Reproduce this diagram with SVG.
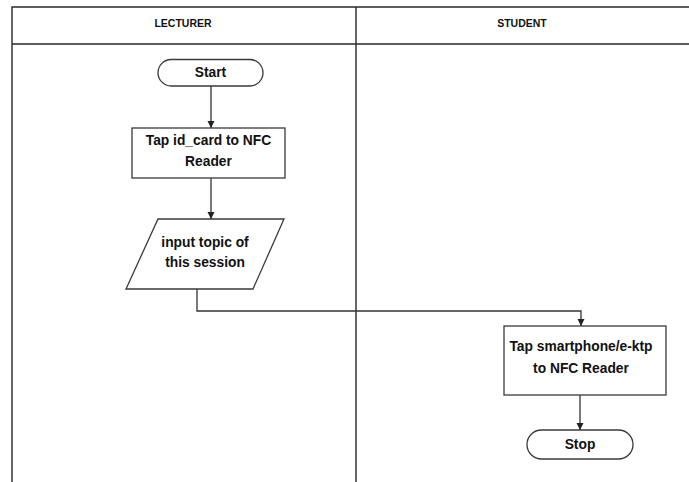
<svg xmlns="http://www.w3.org/2000/svg" width="689" height="482" viewBox="0 0 689 482">
  <style>
    .lane { fill: none; stroke: #2a2a2a; stroke-width: 1.4; }
    .shape { fill: #ffffff; stroke: #3a3a3a; stroke-width: 1.3; }
    .wire { fill: none; stroke: #333333; stroke-width: 1.3; }
    .head { font-family: "Liberation Sans", Arial, sans-serif; font-weight: bold; font-size: 10.5px; fill: #111111; text-anchor: middle; }
    .label { font-family: "Liberation Sans", Arial, sans-serif; font-weight: bold; font-size: 13.8px; fill: #111111; text-anchor: middle; }
  </style>
  <defs>
    <marker id="arrow" viewBox="0 0 10 10" refX="10" refY="5" markerWidth="7" markerHeight="8" markerUnits="userSpaceOnUse" orient="auto">
      <path d="M0,0 L10,5 L0,10 Z" fill="#222222"/>
    </marker>
  </defs>
  <rect width="689" height="482" fill="#ffffff"/>

  <!-- swimlane frame -->
  <g id="lanes">
    <path class="lane" d="M12,490 V7 H700 M12,44 H700 M356,7 V490"/>
    <text class="head" x="183" y="27">LECTURER</text>
    <text class="head" x="522" y="27">STUDENT</text>
  </g>

  <!-- connectors -->
  <g id="connectors">
    <path class="wire" d="M211,86 V128" marker-end="url(#arrow)"/>
    <path class="wire" d="M211,178 V219" marker-end="url(#arrow)"/>
    <path class="wire" d="M197,289 V311 H581 V326" marker-end="url(#arrow)"/>
    <path class="wire" d="M580,395 V430" marker-end="url(#arrow)"/>
  </g>

  <g id="start">
    <rect class="shape" x="158" y="59.5" width="105" height="26.5" rx="13.25"/>
    <text class="label" x="210.5" y="77">Start</text>
  </g>

  <g id="tap-id-card">
    <rect class="shape" x="132" y="128" width="153" height="50"/>
    <text class="label" x="208.5" y="145">Tap id_card to NFC</text>
    <text class="label" x="208.5" y="166">Reader</text>
  </g>

  <g id="input-topic">
    <polygon class="shape" points="158,219 284,219 253,289 126,289"/>
    <text class="label" x="205" y="246.5">input topic of</text>
    <text class="label" x="205" y="266.5">this session</text>
  </g>

  <g id="tap-smartphone">
    <rect class="shape" x="504" y="326" width="162" height="69"/>
    <text class="label" x="581" y="350.5">Tap smartphone/e-ktp</text>
    <text class="label" x="581" y="372.5">to NFC Reader</text>
  </g>

  <g id="stop">
    <rect class="shape" x="527" y="430" width="106" height="29" rx="14.5"/>
    <text class="label" x="580" y="449">Stop</text>
  </g>
</svg>
